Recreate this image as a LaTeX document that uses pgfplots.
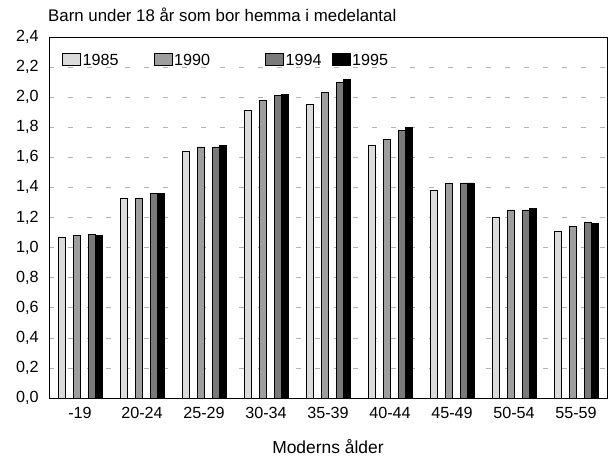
\documentclass[border=0pt]{standalone}
\usepackage{pgfplots}
\pgfplotsset{compat=1.18}
\usepackage{fontspec}
\setmainfont{Liberation Sans}
\definecolor{c85}{gray}{0.86}
\definecolor{c90}{gray}{0.62}
\definecolor{c94}{gray}{0.48}
\begin{document}
\begin{tikzpicture}
\useasboundingbox (-49bp,-62bp) rectangle (563bp,398bp);
\begin{axis}[
  at={(0,0)}, anchor=south west,
  scale only axis,
  width=558bp, height=361bp,
  xmin=-0.5, xmax=8.5, ymin=0, ymax=2.4,
  ytick={0,0.2,...,2.4},
  xtick={0,...,8},
  xticklabels={-19,20-24,25-29,30-34,35-39,40-44,45-49,50-54,55-59},
  tick style={draw=none},
  major tick length=0pt,
  ymajorgrids,
  grid style={gray!60, line width=0.6pt, dash pattern=on 5bp off 14bp},
  axis line style={black, line width=0.8pt},
  /pgf/number format/.cd, use comma, fixed, fixed zerofill, precision=1, assume math mode=true,
  /pgfplots/.cd,
  tick label style={font=\fontsize{16.2}{18}\selectfont},
  yticklabel style={xshift=-7bp},
  xticklabel style={yshift=-6bp},
  xlabel={Moderns ålder},
  xlabel style={font=\fontsize{17.5}{20}\selectfont, at={(axis description cs:0.5,0)}, anchor=base, yshift=-55bp},
  title={Barn under 18 år som bor hemma i medelantal},
  title style={font=\fontsize{16.9}{19}\selectfont, at={(axis description cs:0,1)}, anchor=base west, yshift=10bp, xshift=-1bp, inner sep=0pt},
  ybar, bar width=0.112,
  legend style={at={(0.0233,0.958)}, anchor=north west, draw=none, fill=none,
    font=\fontsize{16.2}{18}\selectfont, inner sep=0pt,
    /tikz/every even column/.append style={column sep=0pt}},
  legend columns=4,
  legend image code/.code={\draw[#1, draw=black, line width=0.5pt] (0bp,-5bp) rectangle (18bp,7bp);},
  every axis plot/.append style={draw=black, line width=0.6pt},
]
\addplot[fill=c85, bar shift=-0.29] coordinates {(0,1.07) (1,1.33) (2,1.64) (3,1.91) (4,1.95) (5,1.68) (6,1.38) (7,1.20) (8,1.11)};
\addplot[fill=c90, bar shift=-0.05] coordinates {(0,1.08) (1,1.33) (2,1.67) (3,1.98) (4,2.03) (5,1.72) (6,1.43) (7,1.25) (8,1.14)};
\addplot[fill=c94, bar shift=0.19] coordinates {(0,1.09) (1,1.36) (2,1.67) (3,2.01) (4,2.10) (5,1.78) (6,1.43) (7,1.25) (8,1.17)};
\addplot[fill=black, bar shift=0.302] coordinates {(0,1.08) (1,1.36) (2,1.68) (3,2.02) (4,2.12) (5,1.80) (6,1.43) (7,1.26) (8,1.16)};
\legend{\makebox[69bp][l]{1985},\makebox[89bp][l]{1990},\makebox[44bp][l]{1994},1995}
\end{axis}
\end{tikzpicture}
\end{document}
